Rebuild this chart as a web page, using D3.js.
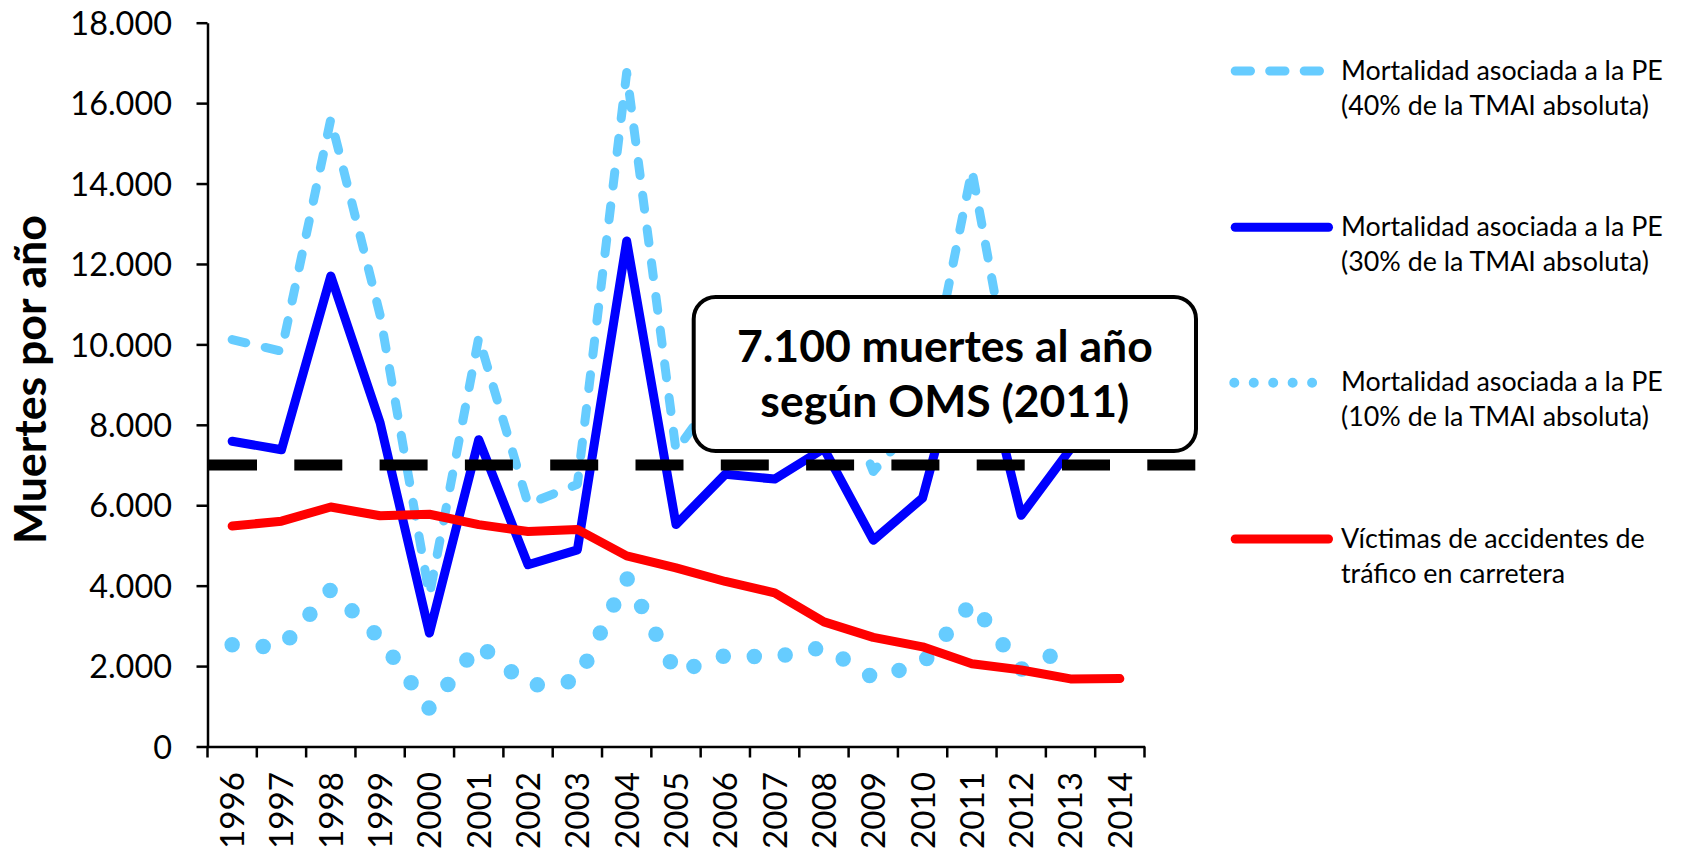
<!DOCTYPE html>
<html><head><meta charset="utf-8">
<script src="https://cdn.jsdelivr.net/npm/d3@7"></script>
<style>
body{margin:0;background:#fff;}
svg{display:block;font-family:Lato,'Open Sans',sans-serif;}
</style>
</head><body>
<svg id="c" width="1683" height="856"></svg>
<script>
// ---------- data ----------
const years = ["1996","1997","1998","1999","2000","2001","2002","2003","2004","2005","2006","2007","2008","2009","2010","2011","2012","2013","2014"];
// Mortalidad asociada a la PE (40% de la TMAI absoluta) – 1996..2013
const pe40 = [10120, 9830, 15600, 10730, 3760, 10170, 6030, 6520, 16760, 7360, 9030, 8870, 9880, 6840, 8240, 14330, 7670, 9870];
// Mortalidad asociada a la PE (30% de la TMAI absoluta) – 1996..2013
const pe30 = [7590, 7380, 11700, 8050, 2820, 7630, 4520, 4890, 12570, 5520, 6770, 6650, 7410, 5130, 6180, 10750, 5750, 7400];
// Mortalidad asociada a la PE (10% de la TMAI absoluta) – 1996..2013
const pe10 = [2530, 2460, 3900, 2680, 940, 2540, 1510, 1630, 4190, 1840, 2260, 2220, 2470, 1710, 2060, 3580, 1920, 2470];
// Víctimas de accidentes de tráfico en carretera – 1996..2014
const victimas = [5483, 5604, 5957, 5738, 5776, 5517, 5347, 5399, 4741, 4442, 4104, 3823, 3100, 2714, 2478, 2060, 1903, 1680, 1688];
const yTicks = [0, 2000, 4000, 6000, 8000, 10000, 12000, 14000, 16000, 18000];
const omsRef = 7000;
const yTitle = "Muertes por año";
const annotation = ["7.100 muertes al año", "según OMS (2011)"];
const legendLabels = [
  ["Mortalidad asociada a la PE", "(40% de la TMAI absoluta)"],
  ["Mortalidad asociada a la PE", "(30% de la TMAI absoluta)"],
  ["Mortalidad asociada a la PE", "(10% de la TMAI absoluta)"],
  ["Víctimas de accidentes de", "tráfico en carretera"]
];

// ---------- layout ----------
const svg = d3.select("#c");
const L = 207.5, R = 1144.5, T = 22.7, B = 746.5;
const x = d3.scaleBand().domain(years).range([L, R]).padding(0);
const bw = x.bandwidth();
const y = d3.scaleLinear().domain([0, 18000]).range([B, T]);
const es = d3.formatLocale({decimal: ",", thousands: ".", grouping: [3], currency: ["", "€"]});
const fmt = es.format(",d");

function sizeFor(text, weight, target) {
  const t = svg.append("text").attr("font-size", 100).attr("font-weight", weight).text(text);
  const w = t.node().getComputedTextLength();
  t.remove();
  return 100 * target / w;
}
const fsTick = sizeFor("18.000", "normal", 101.7);
const fsX = sizeFor("1996", "normal", 77);
const fsTitle = sizeFor(yTitle, "bold", 329);
const fsAnn = sizeFor(annotation[0], "bold", 416);
const fsLeg = sizeFor(legendLabels[0][0], "normal", 322);

// ---------- axes ----------
const gy = svg.append("g").attr("transform", `translate(${L},0)`)
  .call(d3.axisLeft(y).tickValues(yTicks).tickFormat(fmt).tickSize(11).tickSizeOuter(0).tickPadding(24.5));
gy.select(".domain").attr("stroke", "#000").attr("stroke-width", 2.5);
gy.selectAll(".tick line").attr("stroke", "#000").attr("stroke-width", 2.5);
gy.selectAll(".tick text").attr("font-size", fsTick).attr("font-family", "Lato").attr("fill", "#000").attr("dy", "0.36em");

const gx = svg.append("g").attr("transform", `translate(0,${B})`)
  .call(d3.axisBottom(x).tickSize(0).tickSizeOuter(0));
gx.select(".domain").attr("stroke", "#000").attr("stroke-width", 2.5);
gx.selectAll(".tick text")
  .attr("font-size", fsX).attr("font-family", "Lato").attr("fill", "#000")
  .attr("text-anchor", "end").attr("transform", "rotate(-90)")
  .attr("x", -25.5).attr("y", 0).attr("dy", "0.36em");
const bounds = years.map(d => x(d)).concat([x(years[years.length - 1]) + bw]);
svg.append("g").selectAll("line").data(bounds).join("line")
  .attr("x1", d => d).attr("x2", d => d).attr("y1", B).attr("y2", B + 11)
  .attr("stroke", "#000").attr("stroke-width", 2.5);

// y title
svg.append("text").attr("transform", `translate(46,${(T + B) / 2 - 5}) rotate(-90)`)
  .attr("text-anchor", "middle").attr("font-weight", "bold").attr("font-size", fsTitle)
  .attr("fill", "#000").text(yTitle);

// ---------- series ----------
const line = d3.line().x((d, i) => x(years[i]) + bw / 2).y(d => y(d)).curve(d3.curveLinear);
const series = [
  {data: pe40, color: "#66CCFF", width: 9, dash: "14,20", cap: "round"},
  {data: pe30, color: "#0000FF", width: 9, dash: null, cap: "round"},
  {data: pe10, color: "#66CCFF", width: 15.5, dash: "0,31.1", cap: "round"},
  {data: victimas, color: "#FF0000", width: 9, dash: null, cap: "round"}
];
svg.append("g").selectAll("path").data(series).join("path")
  .attr("d", s => line(s.data)).attr("fill", "none")
  .attr("stroke", s => s.color).attr("stroke-width", s => s.width)
  .attr("stroke-dasharray", s => s.dash).attr("stroke-linecap", s => s.cap)
  .attr("stroke-linejoin", "round");

// reference line (OMS)
svg.append("line").attr("x1", L + 1.5).attr("x2", R + 51).attr("y1", y(omsRef)).attr("y2", y(omsRef))
  .attr("stroke", "#000").attr("stroke-width", 11).attr("stroke-dasharray", "48,37.3");

// annotation box
const bx = 693.7, by = 297, bW = 502.3, bH = 154;
svg.append("rect").attr("x", bx).attr("y", by).attr("width", bW).attr("height", bH)
  .attr("rx", 22).attr("ry", 22).attr("fill", "#fff").attr("stroke", "#000").attr("stroke-width", 4);
svg.append("g").selectAll("text").data(annotation).join("text")
  .attr("x", bx + bW / 2).attr("y", (d, i) => 362 + i * 55)
  .attr("text-anchor", "middle").attr("font-weight", "bold").attr("font-size", fsAnn)
  .attr("fill", "#000").text(d => d);

// ---------- legend ----------
const legY = [71, 227.3, 382.7, 539];
const legSamples = [
  {x1: 1235.2, x2: 1319.5, color: "#66CCFF", width: 9, dash: "15.3,19.2"},
  {x1: 1235.2, x2: 1328.5, color: "#0000FF", width: 9, dash: null},
  {x1: 1234.3, x2: 1312.2, color: "#66CCFF", width: 10, dash: "0,19.45"},
  {x1: 1235.2, x2: 1328.5, color: "#FF0000", width: 9, dash: null}
];
const lg = svg.append("g").selectAll("g").data(legSamples).join("g");
lg.append("line").attr("x1", d => d.x1).attr("x2", d => d.x2)
  .attr("y1", (d, i) => legY[i]).attr("y2", (d, i) => legY[i])
  .attr("stroke", d => d.color).attr("stroke-width", d => d.width)
  .attr("stroke-dasharray", d => d.dash).attr("stroke-linecap", "round");
lg.each(function(d, i) {
  d3.select(this).selectAll("text").data(legendLabels[i]).join("text")
    .attr("x", 1341).attr("y", (t, j) => legY[i] + 8.7 + j * 35)
    .attr("font-size", fsLeg).attr("fill", "#000").text(t => t);
});
</script>
</body></html>
